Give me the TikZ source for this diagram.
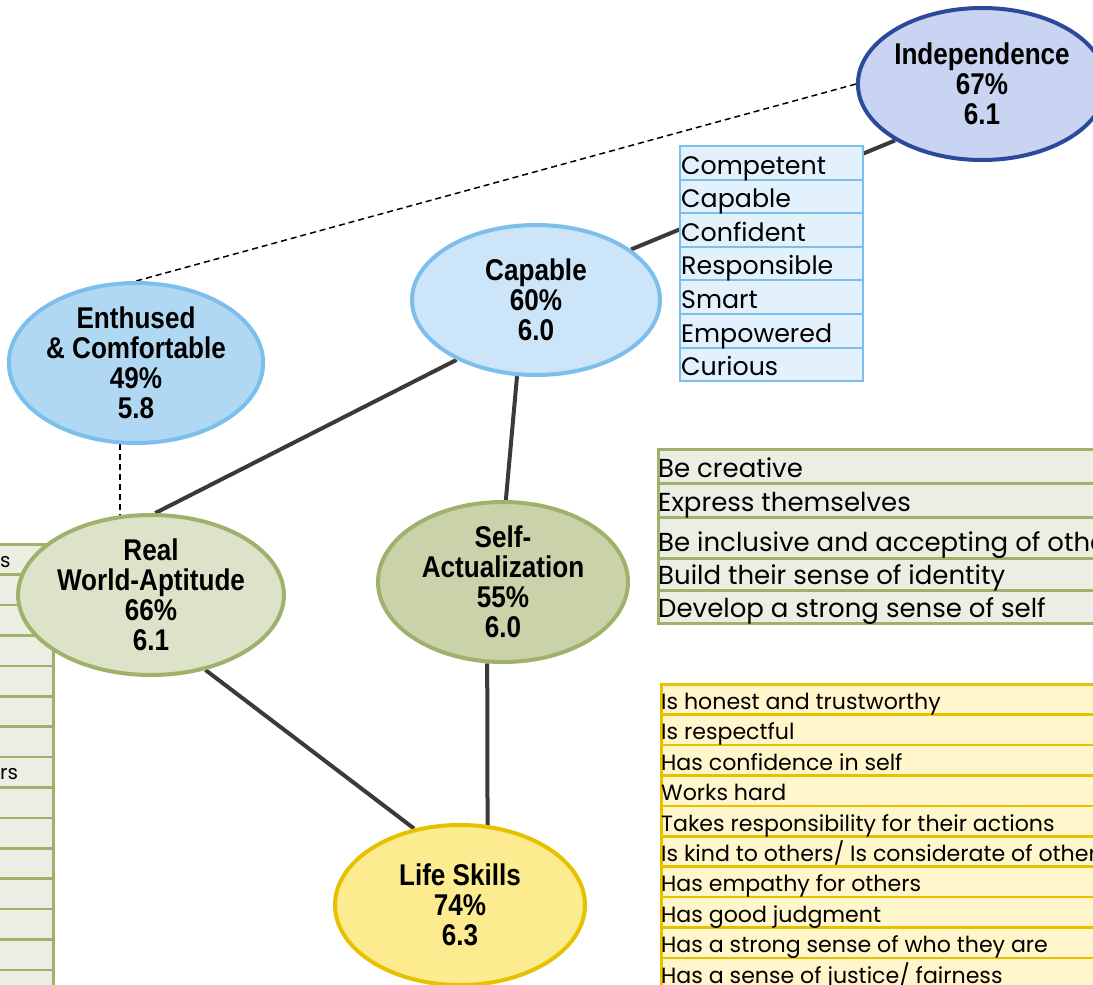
\documentclass[tikz,border=0pt]{standalone}
\usepackage{fontspec}
\setmainfont{Poppins}
\newfontfamily\lbl[FakeStretch=0.87]{Liberation Sans}
\usetikzlibrary{shapes.geometric,backgrounds}
\definecolor{indfill}{HTML}{C8D4F2}
\definecolor{indline}{HTML}{2B4A9B}
\definecolor{capfill}{HTML}{CCE5F8}
\definecolor{bluline}{HTML}{7DBFEC}
\definecolor{enthfill}{HTML}{B0D8F2}
\definecolor{rwfill}{HTML}{DDE3C8}
\definecolor{grnline}{HTML}{9FB26B}
\definecolor{safill}{HTML}{C9D2A9}
\definecolor{lsfill}{HTML}{FDEB8F}
\definecolor{yelline}{HTML}{E5C100}
\definecolor{btab}{HTML}{E3F1FC}
\definecolor{gtab}{HTML}{ECEEE3}
\definecolor{ytab}{HTML}{FFF6CC}
\definecolor{conn}{HTML}{3A3A3A}
\tikzset{
  oval/.style={ellipse, inner sep=0pt, line width=4pt, align=center,
    font=\lbl\bfseries\fontsize{30}{30}\selectfont},
  link/.style={line width=4pt, draw=conn},
  dlink/.style={line width=1.5pt, draw=black, dash pattern=on 6pt off 4pt},
  brow/.style={draw=bluline, fill=btab, line width=2pt, anchor=north west,
    minimum height=33.6pt, minimum width=183pt, inner sep=0pt},
  btxt/.style={anchor=base west, inner sep=0pt, font=\fontsize{25.3}{25.3}\selectfont},
  grnrow/.style={draw=grnline, fill=gtab, line width=2.5pt, anchor=north west,
    minimum width=480pt, inner sep=0pt},
  gtxt/.style={anchor=base west, inner sep=0pt, font=\fontsize{26}{26}\selectfont},
  yrow/.style={draw=yelline, fill=ytab, line width=2.5pt, anchor=north west,
    minimum height=30.4pt, minimum width=480pt, inner sep=0pt},
  ytxt/.style={anchor=base west, inner sep=0pt, font=\fontsize{22.1}{22.1}\selectfont},
  lrow/.style={draw=grnline, fill=gtab, line width=2.5pt, anchor=north west,
    minimum height=30.4pt, minimum width=80pt, inner sep=0pt},
  cuttext/.style={anchor=base west, inner sep=0pt, font=\fontsize{20}{20}\selectfont},
}
\begin{document}
\begin{tikzpicture}[x=1pt,y=-1pt]
\useasboundingbox (0,0) rectangle (1093,985);
\clip (0,0) rectangle (1093,985);
% left table (cut off)
\foreach \i in {0,...,14} {
  \node[lrow] (l\i) at (-28,{543+30.4*\i}) {};
}
\node[cuttext] (ls1) at (0,567) {s};
\node[cuttext] (ls2) at (0,779) {rs};
% ellipses
\node[oval, fill=indfill, draw=indline, minimum width=244pt, minimum height=152pt] (ind) at (982,84) {Independence\\67\%\\6.1};
\node[oval, fill=capfill, draw=bluline, minimum width=248pt, minimum height=150pt] (cap) at (536,300) {Capable\\60\%\\6.0};
\node[oval, fill=enthfill, draw=bluline, minimum width=248pt, minimum height=160pt] (enth) at (136,363) {Enthused\\\& Comfortable\\49\%\\5.8};
\node[oval, fill=rwfill, draw=grnline, minimum width=246pt, minimum height=160pt] (rw) at (151,595) {Real\\World-Aptitude\\66\%\\6.1};
\node[oval, fill=safill, draw=grnline, minimum width=250pt, minimum height=160pt] (sa) at (503,582) {Self-\\Actualization\\55\%\\6.0};
\node[oval, fill=lsfill, draw=yelline, minimum width=250pt, minimum height=160pt] (ls) at (460,905) {Life Skills\\74\%\\6.3};
% connectors
\begin{scope}[on background layer]
\draw[link] (cap.28) -- (ind.213);
\draw[link] (cap.217) -- (rw.87);
\draw[link] (cap.256) -- (sa.88);
\draw[link] (rw.306) -- (ls.121);
\draw[link] (sa.259) -- (ls.71);
\draw[dlink] (ind.180) -- (enth.90);
\draw[dlink] (enth.259) -- (enth.259 |- rw.center);
\end{scope}
% blue table
\foreach \i in {0,...,6} {
  \node[brow] (b\i) at (679,{145+33.6*\i}) {};
}
\foreach \t [count=\i from 0] in {Competent,Capable,Confident,Responsible,Smart,Empowered,Curious} {
  \node[btxt] (bt\i) at ([shift={(2,-6.5)}]b\i.south west) {\t};
}
% green table
\node[grnrow, minimum height=34pt] (g0) at (657,448) {};
\node[grnrow, minimum height=34pt] (g1) at (657,482) {};
\node[grnrow, minimum height=41pt] (g2) at (657,516) {};
\node[grnrow, minimum height=32pt] (g3) at (657,557) {};
\node[grnrow, minimum height=33pt] (g4) at (657,589) {};
\node[gtxt] (gt0) at ([shift={(1,-7)}]g0.south west) {Be creative};
\node[gtxt] (gt1) at ([shift={(1,-7)}]g1.south west) {Express themselves};
\node[gtxt] (gt2) at ([shift={(1,-8)}]g2.south west) {Be inclusive and accepting of others};
\node[gtxt] (gt3) at ([shift={(1,-7)}]g3.south west) {Build their sense of identity};
\node[gtxt] (gt4) at ([shift={(1,-7)}]g4.south west) {Develop a strong sense of self};
% yellow table
\foreach \i in {0,...,10} {
  \node[yrow] (y\i) at (660,{683+30.4*\i}) {};
}
\foreach \t [count=\i from 0] in {Is honest and trustworthy,Is respectful,Has confidence in self,Works hard,Takes responsibility for their actions,Is kind to others/ Is considerate of others,Has empathy for others,Has good judgment,Has a strong sense of who they are,Has a sense of justice/ fairness} {
  \node[ytxt] (yt\i) at ([shift={(1,-6.5)}]y\i.south west) {\t};
}
\end{tikzpicture}
\end{document}
